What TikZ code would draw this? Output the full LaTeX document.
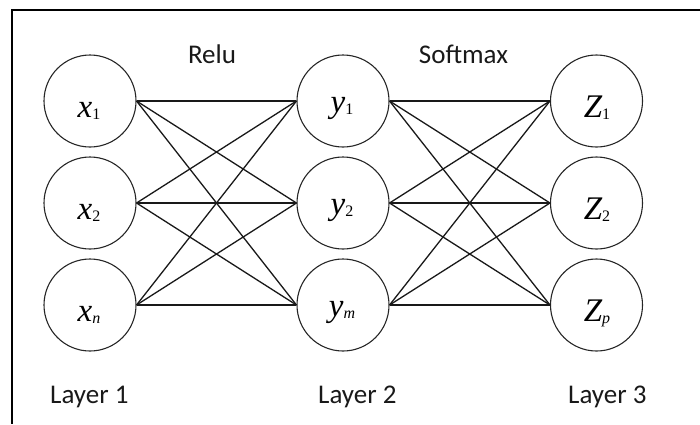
\documentclass[tikz,border=0pt]{standalone}
\usepackage{fontspec}
\setmainfont{Carlito}
\newfontfamily\varserif{Liberation Serif}
\newcommand\vsub[1]{\raisebox{-2.5pt}{\fontsize{16}{16}\selectfont #1}}
\begin{document}
\begin{tikzpicture}[x=1pt,y=-1pt,
  neuron/.style={circle,draw=black!85,line width=1.1pt,minimum size=92pt,inner sep=0pt},
  conn/.style={line width=1.3pt,draw=black!90},
  lab/.style={font=\fontsize{27}{30}\selectfont,anchor=base west,inner sep=0pt,text=black!90},
  var/.style={font=\varserif\itshape\fontsize{33}{36}\selectfont,anchor=base,inner sep=0pt}]
\useasboundingbox (0,0) rectangle (700,424);
\coordinate (frTR) at (700,10);
\coordinate (frTL) at (12,10);
\coordinate (frBL) at (12,424);
\draw[line width=1.3pt] (frTR) -- (frTL) -- (frBL);
% layer 1
\node[neuron] (x1) at (90,101) {};
\node[neuron] (x2) at (90,203) {};
\node[neuron] (x3) at (90,305) {};
% layer 2
\node[neuron] (y1) at (343,101) {};
\node[neuron] (y2) at (343,203) {};
\node[neuron] (y3) at (343,305) {};
% layer 3
\node[neuron] (z1) at (596.5,101) {};
\node[neuron] (z2) at (596.5,203) {};
\node[neuron] (z3) at (596.5,305) {};
% variable labels
\node[var] (tx1) at (89,117) {x\vsub{\upshape 1}};
\node[var] (tx2) at (89,219) {x\vsub{\upshape 2}};
\node[var] (tx3) at (89,321) {x\vsub{n}};
\node[var] (ty1) at (342,112) {y\vsub{\upshape 1}};
\node[var] (ty2) at (342,214) {y\vsub{\upshape 2}};
\node[var] (ty3) at (342,316) {y\vsub{m}};
\node[var] (tz1) at (597,117) {Z\vsub{\upshape 1}};
\node[var] (tz2) at (597,219) {Z\vsub{\upshape 2}};
\node[var] (tz3) at (597,321) {Z\vsub{p}};
% connectors
\foreach \a in {x1,x2,x3}
  \foreach \b in {y1,y2,y3}
    \draw[conn] (\a.east) -- (\b.west);
\foreach \a in {y1,y2,y3}
  \foreach \b in {z1,z2,z3}
    \draw[conn] (\a.east) -- (\b.west);
% texts
\node[lab,anchor=base] (relu) at (212,63) {Relu};
\node[lab,anchor=base] (softmax) at (463.5,63) {Softmax};
\node[lab] (l1) at (50,403) {Layer 1};
\node[lab] (l2) at (318,403) {Layer 2};
\node[lab] (l3) at (568,403) {Layer 3};
\end{tikzpicture}
\end{document}
